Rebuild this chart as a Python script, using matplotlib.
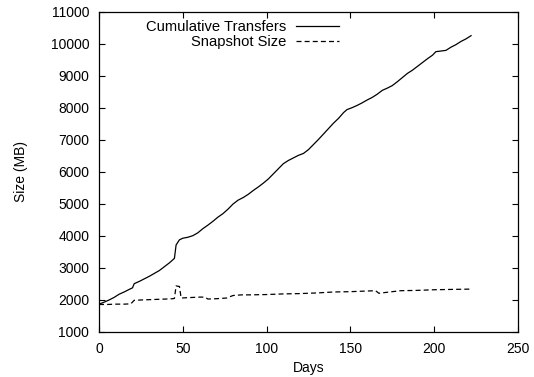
import matplotlib
matplotlib.use('Agg')
import matplotlib.pyplot as plt

plt.rcParams['font.family'] = ['Liberation Sans', 'DejaVu Sans']

# cumulative transferred data (days, MB)
cum_days = [0, 3, 6, 9, 12, 15, 18, 20, 21, 24, 27, 30, 33, 36, 39, 42, 45, 46, 48, 50,
            53, 56, 59, 62, 65, 68, 71, 74, 77, 80, 83, 86, 89, 92, 95, 98, 101, 104, 107,
            110, 113, 116, 119, 122, 125, 128, 131, 134, 137, 140, 143, 146, 148, 151, 154,
            157, 160, 163, 166, 169, 172, 175, 178, 181, 184, 187, 190, 193, 196, 199, 201,
            204, 207, 210, 213, 216, 219, 222]
cum_mb = [1870, 1930, 2000, 2080, 2180, 2250, 2330, 2380, 2510, 2580, 2660, 2740, 2830,
          2920, 3040, 3160, 3300, 3720, 3880, 3930, 3960, 4010, 4100, 4230, 4340, 4460,
          4590, 4700, 4840, 5000, 5120, 5200, 5300, 5420, 5530, 5650, 5780, 5940, 6100,
          6260, 6360, 6440, 6520, 6580, 6700, 6860, 7020, 7190, 7360, 7530, 7680, 7860,
          7950, 8010, 8080, 8160, 8250, 8330, 8430, 8550, 8620, 8700, 8820, 8950, 9080,
          9180, 9300, 9420, 9540, 9650, 9760, 9780, 9800, 9900, 9980, 10080, 10160, 10260]

# snapshot size over time
snap_days = [0, 5, 10, 15, 19, 21, 25, 30, 35, 40, 44, 45, 46, 48, 49, 52, 56, 60, 63, 65,
             70, 76, 80, 85, 90, 100, 110, 120, 130, 140, 150, 160, 165, 167, 175, 180,
             190, 200, 210, 222]
snap_mb = [1860, 1860, 1870, 1870, 1880, 1990, 2000, 2010, 2020, 2030, 2040, 2050, 2440,
           2420, 2060, 2070, 2080, 2090, 2090, 2030, 2040, 2060, 2140, 2160, 2160, 2170,
           2190, 2200, 2220, 2250, 2260, 2280, 2290, 2210, 2260, 2290, 2300, 2320, 2330,
           2340]

fig = plt.figure(figsize=(5.34, 3.77), dpi=100)
ax = fig.add_axes([0.1854, 0.1194, 0.7846, 0.8488])

ax.plot(cum_days, cum_mb, color='black', linewidth=0.9, label='Cumulative Transfers')
ax.plot(snap_days, snap_mb, color='black', linewidth=0.9, linestyle=(0, (4, 2.5)),
        label='Snapshot Size')

ax.set_xlim(0, 250)
ax.set_ylim(1000, 11000)
ax.set_xticks(range(0, 251, 50))
ax.set_yticks(range(1000, 11001, 1000))
ax.tick_params(direction='in', length=4, width=0.8, top=True, right=True,
               labelsize=10)
ax.tick_params(axis='x', pad=7)
ax.tick_params(axis='y', pad=7)
for s in ax.spines.values():
    s.set_linewidth(0.9)

ax.set_xlabel('Days', fontsize=10, labelpad=4)
ax.set_ylabel('Size (MB)', fontsize=10, labelpad=16)

ax.legend(loc='upper right', bbox_to_anchor=(0.573, 0.975), frameon=False,
          markerfirst=False, fontsize=10.6, handlelength=2.9, handletextpad=0.68,
          borderpad=0, borderaxespad=0, labelspacing=0.05)

fig.savefig('out.png', dpi=100)
